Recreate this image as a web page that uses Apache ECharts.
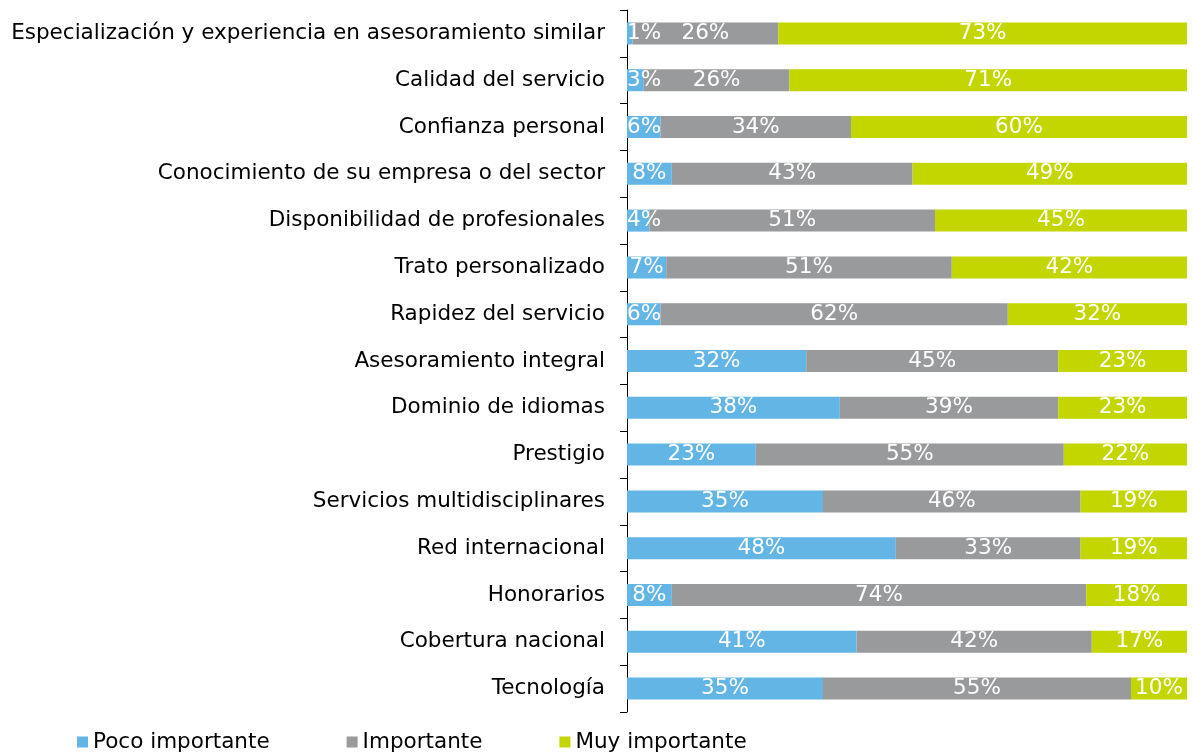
<!DOCTYPE html>
<html>
<head>
<meta charset="utf-8">
<script src="https://cdn.jsdelivr.net/npm/echarts@6/dist/echarts.min.js"></script>
<style>
  html, body { margin: 0; padding: 0; background: #fff; }
  #chart { width: 1193px; height: 754px; }
</style>
</head>
<body>
<div id="chart"></div>
<script>
var categories = [
    'Especialización y experiencia en asesoramiento similar',
    'Calidad del servicio',
    'Confianza personal',
    'Conocimiento de su empresa o del sector',
    'Disponibilidad de profesionales',
    'Trato personalizado',
    'Rapidez del servicio',
    'Asesoramiento integral',
    'Dominio de idiomas',
    'Prestigio',
    'Servicios multidisciplinares',
    'Red internacional',
    'Honorarios',
    'Cobertura nacional',
    'Tecnología'
];
var poco_importante = [1, 3, 6, 8, 4, 7, 6, 32, 38, 23, 35, 48, 8, 41, 35];
var importante = [26, 26, 34, 43, 51, 51, 62, 45, 39, 55, 46, 33, 74, 42, 55];
var muy_importante = [73, 71, 60, 49, 45, 42, 32, 23, 23, 22, 19, 19, 18, 17, 10];

var chart_font = 'DejaVu Sans';

var chart = echarts.init(document.getElementById('chart'));

/* small segments: put the label at the start of the bar like the original */
function bar_data(values)
{
    return values.map(function(v) {
        if (v < 7) {
            return { value: v, label: { position: 'insideLeft', distance: 0 } };
        }
        return v;
    });
}

function make_series(name, color, values)
{
    return {
        name: name,
        type: 'bar',
        stack: 'total',
        barWidth: 22,
        itemStyle: { color: color },
        label: {
            show: true,
            position: 'inside',
            color: '#ffffff',
            fontFamily: chart_font,
            fontSize: 21.5,
            formatter: '{c}%'
        },
        data: bar_data(values)
    };
}

var options = {
    animation: false,
    textStyle: { fontFamily: chart_font },
    grid: {
        left: 627,
        right: 6,
        top: 10,
        bottom: 42
    },
    legend: {
        left: 72,
        bottom: -4,
        icon: 'rect',
        itemWidth: 11,
        itemHeight: 11,
        itemGap: 77,
        textStyle: { fontFamily: chart_font, fontSize: 21.5, color: '#000' },
        data: ['Poco importante', 'Importante', 'Muy importante']
    },
    xAxis: {
        type: 'value',
        min: 0,
        max: 100,
        show: false
    },
    yAxis: {
        type: 'category',
        inverse: true,
        data: categories,
        axisLine: { show: true, lineStyle: { color: '#000', width: 1 } },
        axisTick: { show: true, length: 7, lineStyle: { color: '#000' } },
        axisLabel: {
            color: '#000',
            fontFamily: chart_font,
            fontSize: 21.5,
            margin: 22
        }
    },
    series: [
        make_series('Poco importante', '#62b5e5', poco_importante),
        make_series('Importante', '#999a9c', importante),
        make_series('Muy importante', '#c4d600', muy_importante)
    ]
};

chart.setOption(options);
</script>
</body>
</html>
